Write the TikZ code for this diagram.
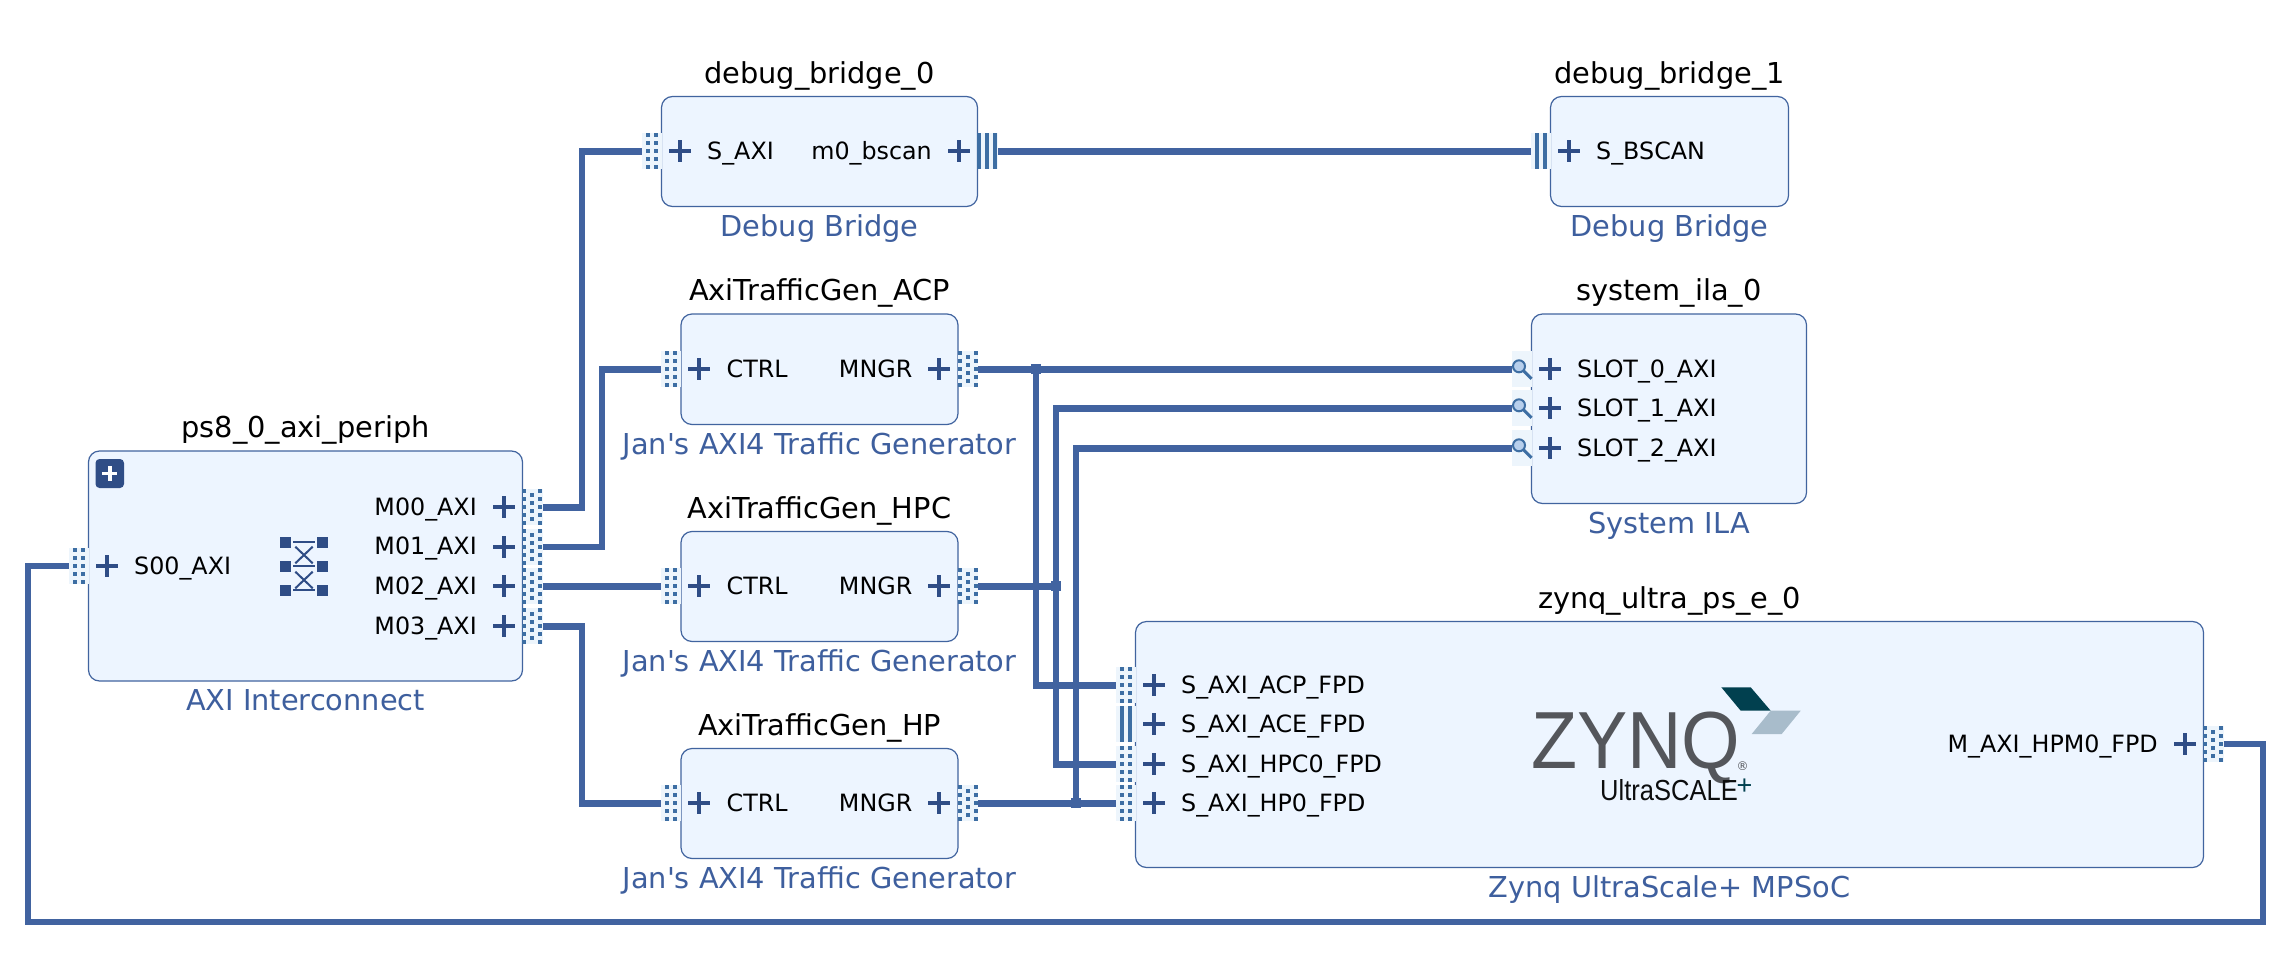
\documentclass[tikz,border=0pt]{standalone}
\usepackage{fontspec}
\newfontfamily\djv{DejaVu Sans}
\newfontfamily\lib{Liberation Sans}
\definecolor{boxfill}{HTML}{EDF5FF}
\definecolor{boxline}{HTML}{41649F}
\definecolor{wirecol}{HTML}{4163A0}
\definecolor{plusblue}{HTML}{2F4D86}
\definecolor{dotblue}{HTML}{3D6EA3}
\definecolor{portbg}{HTML}{EDF5FC}
\definecolor{typeblue}{HTML}{3E5F9E}
\definecolor{zgray}{HTML}{54565B}
\definecolor{zteal}{HTML}{01404F}
\definecolor{zlight}{HTML}{A8BCCB}
\definecolor{lens}{HTML}{B7CFEC}
\tikzset{
 x=1pt,y=-1pt,
 ipbox/.style={draw=boxline,fill=boxfill,line width=1.2pt,rounded corners=11pt,inner sep=0pt,outer sep=0pt},
 titletext/.style={anchor=base,inner sep=0pt,font=\djv\fontsize{28.8}{30}\selectfont,text=black},
 typetext/.style={anchor=base,inner sep=0pt,font=\djv\fontsize{28.8}{30}\selectfont,text=typeblue},
 pinL/.style={anchor=base west,inner sep=0pt,font=\djv\fontsize{23.8}{25}\selectfont,text=black},
 pinR/.style={anchor=base east,inner sep=0pt,font=\djv\fontsize{23.8}{25}\selectfont,text=black},
 wire/.style={draw=wirecol,line width=6.4pt,line join=miter,line cap=butt},
 junction/.style={fill=wirecol,inner sep=0pt,minimum size=10pt,outer sep=0pt},
}
% name, x1, y1, x2, y2, title, type
\newcommand\ipblock[7]{%
 \node[ipbox,minimum width={(#4-#2)*1pt},minimum height={(#5-#3)*1pt}] (#1) at ({(#2+#4)/2},{(#3+#5)/2}) {};
 \node[titletext] (#1-title) at ({(#2+#4)/2},#3-13.5) {#6};
 \node[typetext] (#1-type) at ({(#2+#4)/2},#5+29.5) {#7};
}
\newcommand\plusmark[2]{%
 \fill[plusblue] (#1-11,#2-2) rectangle (#1+11,#2+2);
 \fill[plusblue] (#1-2,#2-11) rectangle (#1+2,#2+11);
}
\newcommand\portbgL[2]{\fill[portbg] (#1-20,#2-18) rectangle (#1,#2+18);}
\newcommand\portbgR[2]{\fill[portbg] (#1,#2-18) rectangle (#1+20,#2+18);}
% interface dots on the left of edge #1 at height #2
\newcommand\axiL[2]{\portbgL{#1}{#2}%
 \foreach \dy in {-16,-8,0,8,16}{\foreach \dx in {-14,-6}{\fill[dotblue] (#1+\dx-2,#2+\dy-2) rectangle (#1+\dx+2,#2+\dy+2);}}}
\newcommand\axiR[2]{\portbgR{#1}{#2}%
 \foreach \dy in {-16,-8,0,8,16}{\foreach \dx in {1.5,17.5}{\fill[dotblue] (#1+\dx-2,#2+\dy-2) rectangle (#1+\dx+2,#2+\dy+2);}}%
 \foreach \dy in {-12,-4,4,12}{\fill[dotblue] (#1+7.5,#2+\dy-2) rectangle (#1+11.5,#2+\dy+2);}}
\newcommand\busL[2]{\portbgL{#1}{#2}%
 \foreach \dx in {-14,-6}{\fill[dotblue] (#1+\dx-2,#2-18) rectangle (#1+\dx+2,#2+18);}}
\newcommand\busR[2]{\portbgR{#1}{#2}%
 \foreach \dx in {1.5,9.5,17.5}{\fill[dotblue] (#1+\dx-2,#2-18) rectangle (#1+\dx+2,#2+18);}}
\newcommand\probeL[2]{\portbgL{#1}{#2}%
 \draw[dotblue,line width=3pt] (#1-8,#2+1.5) -- (#1,#2+9.5);
 \draw[dotblue,line width=2pt,fill=lens] (#1-12.5,#2-3) circle[radius=6];}
% pin label helpers: edge, y, text, node name
\newcommand\labL[4]{\plusmark{#1+18}{#2}\node[pinL] (#4) at (#1+45.5,#2+8) {#3};}
\newcommand\labR[4]{\plusmark{#1-19}{#2}\node[pinR] (#4) at (#1-45.5,#2+8) {#3};}
\begin{document}
\begin{tikzpicture}
\useasboundingbox (0,0) rectangle (2286,974);
\fill[white] (0,0) rectangle (2286,974);

% blocks
\ipblock{ps8}{88.5}{451}{522.5}{681}{ps8\_0\_axi\_periph}{AXI Interconnect}
\ipblock{dbgA}{661.5}{96.5}{977.5}{206.5}{debug\_bridge\_0}{Debug Bridge}
\ipblock{dbgB}{1550.5}{96.5}{1788.5}{206.5}{debug\_bridge\_1}{Debug Bridge}
\ipblock{acp}{681}{314}{958}{424.5}{AxiTrafficGen\_ACP}{Jan's AXI4 Traffic Generator}
\ipblock{hpc}{681}{531.5}{958}{641.5}{AxiTrafficGen\_HPC}{Jan's AXI4 Traffic Generator}
\ipblock{hp}{681}{748.5}{958}{858.5}{AxiTrafficGen\_HP}{Jan's AXI4 Traffic Generator}
\ipblock{ila}{1531.5}{314}{1806.5}{503.5}{system\_ila\_0}{System ILA}
\ipblock{zynq}{1135.5}{621.5}{2203.5}{867.5}{zynq\_ultra\_ps\_e\_0}{Zynq UltraScale+ MPSoC}

% pin end points
\coordinate (ps8S) at (68.5,566);
\coordinate (ps8M0) at (542.5,507.3);
\coordinate (ps8M1) at (542.5,546.7);
\coordinate (ps8M2) at (542.5,586.3);
\coordinate (ps8M3) at (542.5,626.3);
\coordinate (dbgAs) at (641.5,151.3);
\coordinate (dbgAm) at (997.5,151.3);
\coordinate (dbgBs) at (1530.5,151.3);
\coordinate (acpS) at (661,369.3);
\coordinate (hpcS) at (661,586.3);
\coordinate (hpS) at (661,803.3);
\coordinate (acpM) at (978,369.3);
\coordinate (hpcM) at (978,586.3);
\coordinate (hpM) at (978,803.3);
\coordinate (ila0) at (1511.5,369.3);
\coordinate (ila1) at (1511.5,408.3);
\coordinate (ila2) at (1511.5,448.3);
\coordinate (zAcp) at (1115.5,685.3);
\coordinate (zHpc) at (1115.5,764.3);
\coordinate (zHp) at (1115.5,803.3);
\coordinate (zM) at (2223.5,744);
\coordinate (tA) at (582,0);
\coordinate (tB) at (602,0);
\coordinate (tC) at (1036,0);
\coordinate (tD) at (1056,0);
\coordinate (tE) at (1076,0);
\coordinate (rimL) at (28,922);
\coordinate (rimR) at (2263,922);

% connectors
\draw[wire] (ps8M0) -- (ps8M0 -| tA) -- (dbgAs -| tA) -- (dbgAs);
\draw[wire] (ps8M1) -- (ps8M1 -| tB) -- (acpS -| tB) -- (acpS);
\draw[wire] (ps8M2) -- (hpcS);
\draw[wire] (ps8M3) -- (ps8M3 -| tA) -- (hpS -| tA) -- (hpS);
\draw[wire] (dbgAm) -- (dbgBs);
\draw[wire] (acpM) -- (ila0);
\draw[wire] (acpM -| tC) -- (zAcp -| tC) -- (zAcp);
\draw[wire] (hpcM) -- (hpcM -| tD);
\draw[wire] (ila1) -- (ila1 -| tD) -- (zHpc -| tD) -- (zHpc);
\draw[wire] (hpM) -- (zHp);
\draw[wire] (ila2) -- (ila2 -| tE) -- (hpM -| tE);
\draw[wire] (zM) -- (zM -| rimR) -- (rimR) -- (rimL) -- (ps8S -| rimL) -- (ps8S);
\node[junction] (j1) at (acpM -| tC) {};
\node[junction] (j2) at (hpcM -| tD) {};
\node[junction] (j3) at (hpM -| tE) {};

% ports
\axiL{88.5}{566}
\axiR{522.5}{507.3}\axiR{522.5}{546.7}\axiR{522.5}{586.3}\axiR{522.5}{626.3}
\axiL{661.5}{151.3}\busR{977.5}{151.3}\busL{1550.5}{151.3}
\axiL{681}{369.3}\axiR{958}{369.3}
\axiL{681}{586.3}\axiR{958}{586.3}
\axiL{681}{803.3}\axiR{958}{803.3}
\probeL{1531.5}{369.3}\probeL{1531.5}{408.3}\probeL{1531.5}{448.3}
\axiL{1135.5}{685.3}\busL{1135.5}{724}\axiL{1135.5}{764.3}\axiL{1135.5}{803.3}
\axiR{2203.5}{744}

% pin labels
\labL{88.5}{566}{S00\_AXI}{lS00}
\labR{522.5}{507.3}{M00\_AXI}{lM00}
\labR{522.5}{546.7}{M01\_AXI}{lM01}
\labR{522.5}{586.3}{M02\_AXI}{lM02}
\labR{522.5}{626.3}{M03\_AXI}{lM03}
\labL{661.5}{151.3}{S\_AXI}{lDs}
\labR{977.5}{151.3}{m0\_bscan}{lDm}
\labL{1550.5}{151.3}{S\_BSCAN}{lDb}
\labL{681}{369.3}{CTRL}{lc1}\labR{958}{369.3}{MNGR}{lm1}
\labL{681}{586.3}{CTRL}{lc2}\labR{958}{586.3}{MNGR}{lm2}
\labL{681}{803.3}{CTRL}{lc3}\labR{958}{803.3}{MNGR}{lm3}
\labL{1531.5}{369.3}{SLOT\_0\_AXI}{ls0}
\labL{1531.5}{408.3}{SLOT\_1\_AXI}{ls1}
\labL{1531.5}{448.3}{SLOT\_2\_AXI}{ls2}
\labL{1135.5}{685.3}{S\_AXI\_ACP\_FPD}{lz0}
\labL{1135.5}{724}{S\_AXI\_ACE\_FPD}{lz1}
\labL{1135.5}{764.3}{S\_AXI\_HPC0\_FPD}{lz2}
\labL{1135.5}{803.3}{S\_AXI\_HP0\_FPD}{lz3}
\labR{2203.5}{744}{M\_AXI\_HPM0\_FPD}{lz4}

% expand button
\fill[plusblue,rounded corners=4pt] (95.5,459) rectangle (124,488);
\fill[white] (102,471.6) rectangle (117.4,475.2);
\fill[white] (107.9,465.6) rectangle (111.5,481);

% crossbar icon
\foreach \yy in {542.3,566.3,590.3}{
 \fill[plusblue] (280,\yy-5.5) rectangle (291,\yy+5.5);
 \fill[plusblue] (317,\yy-5.5) rectangle (328,\yy+5.5);
 \fill[plusblue] (293,\yy-1) rectangle (315,\yy+1);
}
\draw[plusblue,line width=2pt] (295.3,546.7) -- (312.7,563.3) (312.7,546.7) -- (295.3,563.3);
\draw[plusblue,line width=2pt] (295.3,571.7) -- (312.7,588.3) (312.7,571.7) -- (295.3,588.3);

% Zynq logo
\fill[zteal] (1721.3,687.3) -- (1750.7,687.3) -- (1770.7,710.7) -- (1740.7,710.7) -- cycle;
\fill[zlight] (1770.7,710.7) -- (1800.7,710.7) -- (1781.7,734) -- (1751.7,734) -- cycle;
\node[anchor=base west,inner sep=0pt,text=zgray,font=\lib\fontsize{81}{83}\selectfont] (logoZ) at (1531,768.3) {\smash{\scalebox{.93}[1]{ZYNQ}}};
\node[inner sep=0pt,text=zgray,font=\djv\fontsize{12}{13}\selectfont] (logoR) at (1742.5,766.5) {®};
\node[anchor=base west,inner sep=0pt,text=black!85!zgray,font=\lib\fontsize{29}{31}\selectfont] (logoU) at (1600,800.7) {\scalebox{.88}[1]{UltraSCALE}};
\node[inner sep=0pt,text=zteal,font=\lib\fontsize{27}{29}\selectfont] (logoP) at (1744.5,787) {+};
\end{tikzpicture}
\end{document}
